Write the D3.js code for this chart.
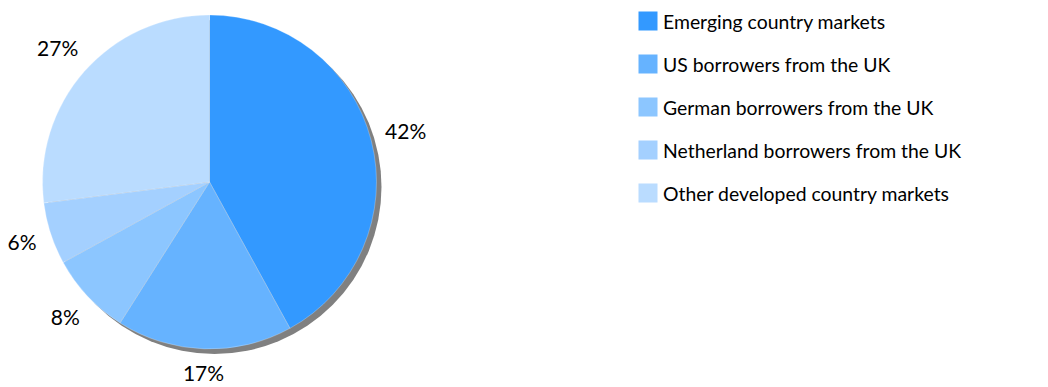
<!DOCTYPE html>
<html>
<head>
<meta charset="utf-8">
<script src="https://cdn.jsdelivr.net/npm/d3@7"></script>
<style>
  html, body { margin: 0; padding: 0; background: #ffffff; }
  svg { display: block; font-family: Lato, "Open Sans", sans-serif; }
</style>
</head>
<body>
<svg id="chart" width="1048" height="387"></svg>
<script>
// Share of lending by borrower group (percent)
const categories = [
  "Emerging country markets",
  "US borrowers from the UK",
  "German borrowers from the UK",
  "Netherland borrowers from the UK",
  "Other developed country markets"
];
const values = [42, 17, 8, 6, 27];
const colors = ["#3399FF", "#66B3FF", "#8CC6FF", "#A4D0FF", "#BADCFF"];

const svg = d3.select("#chart");
const cx = 209.5, cy = 182, radius = 167, labelGap = 13;

const defs = svg.append("defs");
defs.append("filter").attr("id", "soft")
  .attr("x", "-10%").attr("y", "-10%").attr("width", "120%").attr("height", "120%")
  .append("feGaussianBlur").attr("stdDeviation", 0.7);

const color = d3.scaleOrdinal().domain(categories).range(colors);
const pie = d3.pie().sort(null).value(d => d.value);
const arc = d3.arc().innerRadius(0).outerRadius(radius);

const data = categories.map((c, i) => ({ name: c, value: values[i] }));
const arcs = pie(data);

const g = svg.append("g").attr("transform", `translate(${cx},${cy})`);

// cast shadow below the disc
g.append("circle")
  .attr("cx", 5).attr("cy", 5).attr("r", radius)
  .attr("fill", "#808080")
  .attr("filter", "url(#soft)");

g.selectAll("path.slice")
  .data(arcs)
  .join("path")
  .attr("class", "slice")
  .attr("d", arc)
  .attr("fill", d => color(d.data.name))
  .attr("stroke", "rgba(255,255,255,0.35)")
  .attr("stroke-width", 0.7);

// percentage labels sit just outside the rim, pushed out by half their box
const total = d3.sum(values);
const labels = g.selectAll("text.pct")
  .data(arcs)
  .join("text")
  .attr("class", "pct")
  .attr("text-anchor", "middle")
  .attr("dy", "0.36em")
  .attr("font-size", 21)
  .attr("fill", "#000")
  .text(d => Math.round(d.data.value / total * 100) + "%");

labels.each(function(d) {
  const a = (d.startAngle + d.endAngle) / 2;
  const w = this.getComputedTextLength();
  const h = 21;
  const ext = Math.abs(w / 2 * Math.sin(a)) + Math.abs(h / 2 * Math.cos(a));
  const rr = radius + labelGap + ext;
  d3.select(this).attr("transform", `translate(${rr * Math.sin(a)},${-rr * Math.cos(a)})`);
});

// legend
const legend = svg.append("g").attr("transform", "translate(638.5,0)");
const rowY = d3.scalePoint().domain(categories).range([21, 193]);
const rows = legend.selectAll("g.row")
  .data(categories)
  .join("g")
  .attr("class", "row")
  .attr("transform", d => `translate(0,${rowY(d)})`);
rows.append("rect")
  .attr("x", 0).attr("y", -9.5)
  .attr("width", 19).attr("height", 19)
  .attr("fill", d => color(d));
rows.append("text")
  .attr("x", 24.5).attr("y", 7.5)
  .attr("font-size", 19.4)
  .attr("fill", "#000")
  .text(d => d);
</script>
</body>
</html>
